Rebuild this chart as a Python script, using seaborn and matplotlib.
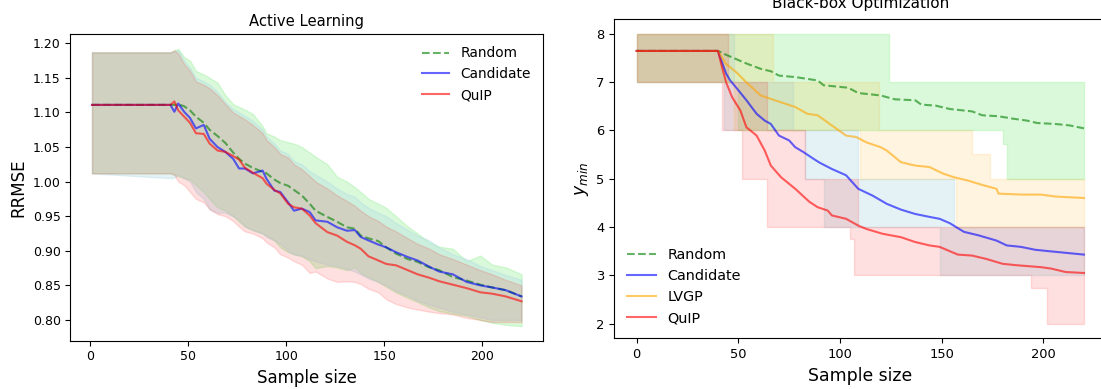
import seaborn as sns
import matplotlib.pyplot as plt

# ---- Active Learning (left panel) ----
al_x = [1, 41, 43, 45, 48, 51, 54, 58, 61, 65, 69, 73, 76, 79, 83, 88, 90, 94, 97, 101, 104, 108,
        112, 115, 121, 126, 131, 135, 138, 142, 147, 151, 156, 162, 167, 173, 178, 185, 192, 199,
        205, 212, 220]

al_random = [1.111, 1.111, 1.111, 1.112, 1.109, 1.103, 1.094, 1.085, 1.075, 1.066, 1.056, 1.042,
             1.033, 1.026, 1.020, 1.014, 1.012, 1.003, 0.998, 0.994, 0.988, 0.980, 0.968, 0.958,
             0.949, 0.942, 0.934, 0.932, 0.922, 0.918, 0.914, 0.905, 0.896, 0.888, 0.884, 0.876,
             0.872, 0.862, 0.857, 0.851, 0.847, 0.843, 0.834]
al_random_lo = [1.012, 1.012, 1.010, 1.008, 1.005, 1.003, 0.995, 0.985, 0.975, 0.963, 0.958, 0.950,
                0.942, 0.935, 0.930, 0.925, 0.922, 0.915, 0.905, 0.898, 0.895, 0.892, 0.885, 0.875,
                0.878, 0.876, 0.872, 0.876, 0.868, 0.862, 0.855, 0.848, 0.840, 0.832, 0.826, 0.818,
                0.813, 0.809, 0.806, 0.800, 0.796, 0.793, 0.791]
al_random_hi = [1.187, 1.187, 1.190, 1.192, 1.180, 1.175, 1.160, 1.155, 1.150, 1.143, 1.125, 1.112,
                1.108, 1.104, 1.098, 1.080, 1.070, 1.065, 1.060, 1.057, 1.055, 1.050, 1.042, 1.036,
                1.025, 1.007, 1.000, 0.992, 0.985, 0.975, 0.968, 0.962, 0.950, 0.935, 0.925, 0.912,
                0.906, 0.903, 0.885, 0.893, 0.880, 0.876, 0.866]

al_cand = [1.111, 1.111, 1.101, 1.113, 1.101, 1.092, 1.077, 1.082, 1.062, 1.050, 1.043, 1.033,
           1.019, 1.019, 1.012, 1.016, 1.004, 0.987, 0.985, 0.970, 0.958, 0.961, 0.956, 0.944,
           0.942, 0.934, 0.929, 0.930, 0.920, 0.915, 0.909, 0.905, 0.898, 0.891, 0.886, 0.877,
           0.870, 0.866, 0.855, 0.850, 0.847, 0.843, 0.834]
al_cand_lo = [1.012, 1.005, 1.006, 1.010, 1.005, 1.000, 0.985, 0.975, 0.960, 0.955, 0.955, 0.950,
              0.945, 0.935, 0.930, 0.925, 0.920, 0.915, 0.910, 0.900, 0.895, 0.893, 0.888, 0.885,
              0.880, 0.878, 0.874, 0.870, 0.866, 0.860, 0.855, 0.850, 0.842, 0.835, 0.828, 0.822,
              0.818, 0.812, 0.808, 0.804, 0.800, 0.800, 0.800]
al_cand_hi = [1.187, 1.187, 1.188, 1.190, 1.175, 1.165, 1.150, 1.145, 1.140, 1.130, 1.115, 1.105,
              1.100, 1.095, 1.088, 1.075, 1.065, 1.055, 1.045, 1.040, 1.030, 1.025, 1.015, 1.010,
              1.000, 0.990, 0.982, 0.978, 0.970, 0.962, 0.955, 0.950, 0.940, 0.930, 0.922, 0.915,
              0.905, 0.895, 0.888, 0.878, 0.872, 0.865, 0.858]

al_quip = [1.111, 1.111, 1.116, 1.103, 1.094, 1.085, 1.070, 1.069, 1.055, 1.045, 1.043, 1.037,
           1.032, 1.020, 1.013, 1.005, 0.997, 0.988, 0.983, 0.968, 0.963, 0.961, 0.951, 0.940,
           0.927, 0.922, 0.913, 0.908, 0.903, 0.892, 0.886, 0.881, 0.879, 0.872, 0.866, 0.861,
           0.856, 0.851, 0.846, 0.840, 0.838, 0.834, 0.827]
al_quip_lo = [1.012, 1.012, 1.010, 1.000, 0.995, 0.985, 0.975, 0.970, 0.960, 0.953, 0.950, 0.943,
              0.935, 0.928, 0.925, 0.918, 0.912, 0.905, 0.895, 0.890, 0.885, 0.880, 0.868, 0.870,
              0.860, 0.855, 0.856, 0.855, 0.852, 0.845, 0.840, 0.830, 0.823, 0.818, 0.815, 0.812,
              0.810, 0.808, 0.803, 0.800, 0.797, 0.797, 0.797]
al_quip_hi = [1.187, 1.187, 1.190, 1.185, 1.170, 1.160, 1.145, 1.140, 1.135, 1.125, 1.112, 1.100,
              1.095, 1.090, 1.082, 1.070, 1.060, 1.050, 1.040, 1.035, 1.025, 1.018, 1.008, 1.000,
              0.990, 0.980, 0.972, 0.965, 0.958, 0.950, 0.943, 0.935, 0.928, 0.918, 0.910, 0.903,
              0.895, 0.888, 0.880, 0.872, 0.866, 0.858, 0.850]

# ---- Black-box Optimization (right panel) ----
bo_random_x = [0, 40, 44, 49, 54, 61, 66, 70, 78, 89, 92, 104, 109, 120, 127, 137, 140, 147, 154,
               165, 170, 178, 185, 192, 197, 206, 213, 220]
bo_random_y = [7.64, 7.64, 7.56, 7.47, 7.38, 7.27, 7.22, 7.13, 7.10, 7.03, 6.93, 6.88, 6.77, 6.72,
               6.64, 6.62, 6.53, 6.51, 6.44, 6.39, 6.31, 6.29, 6.24, 6.20, 6.15, 6.13, 6.10, 6.04]

bo_cand_x = [0, 40, 42, 44, 46, 49, 54, 59, 63, 66, 70, 75, 78, 82, 87, 90, 96, 103, 109, 116, 123,
             130, 137, 144, 149, 154, 161, 168, 177, 182, 189, 196, 203, 220]
bo_cand_y = [7.64, 7.64, 7.40, 7.17, 7.03, 6.88, 6.62, 6.34, 6.20, 6.13, 5.89, 5.79, 5.65, 5.55,
             5.41, 5.33, 5.20, 5.07, 4.79, 4.65, 4.48, 4.36, 4.27, 4.21, 4.17, 4.08, 3.90, 3.83,
             3.72, 3.62, 3.59, 3.53, 3.50, 3.43]

bo_lvgp_x = [0, 40, 44, 49, 54, 61, 68, 78, 84, 89, 96, 103, 108, 113, 120, 123, 130, 137, 144, 151,
             156, 163, 170, 177, 178, 190, 199, 206, 220]
bo_lvgp_y = [7.64, 7.64, 7.37, 7.20, 6.99, 6.72, 6.62, 6.48, 6.34, 6.31, 6.10, 5.89, 5.86, 5.75,
             5.65, 5.58, 5.34, 5.27, 5.24, 5.10, 5.03, 4.96, 4.87, 4.79, 4.69, 4.67, 4.67, 4.63, 4.60]

bo_quip_x = [0, 40, 42, 44, 47, 51, 54, 57, 59, 63, 66, 71, 78, 85, 89, 94, 96, 103, 109, 113, 121,
             130, 137, 144, 149, 158, 165, 172, 180, 187, 199, 204, 211, 220]
bo_quip_y = [7.64, 7.64, 7.30, 6.99, 6.68, 6.41, 6.06, 5.96, 5.89, 5.58, 5.27, 5.03, 4.79, 4.52,
             4.41, 4.34, 4.24, 4.17, 4.03, 3.96, 3.86, 3.79, 3.69, 3.62, 3.59, 3.43, 3.41, 3.34,
             3.24, 3.21, 3.17, 3.14, 3.07, 3.05]

# step bands (value holds until next x)
bo_random_band_x = [0, 50, 124, 180, 182, 220]
bo_random_lo = [7, 6, 6, 5.72, 5, 5]
bo_random_hi = [8, 8, 7, 7, 7, 7]

bo_cand_band_x = [0, 43, 48, 77, 83, 92, 109, 149, 156, 220]
bo_cand_lo = [7, 6, 6, 6, 5, 4, 4, 3, 3, 3]
bo_cand_hi = [8, 8, 7, 6, 6, 6, 5, 5, 4, 4]

bo_lvgp_band_x = [0, 48, 67, 110, 119, 157, 165, 174, 220]
bo_lvgp_lo = [7, 6, 6, 5, 5, 4, 4, 4, 4]
bo_lvgp_hi = [8, 8, 7, 7, 6, 6, 5.5, 5, 5]

bo_quip_band_x = [0, 42, 45, 52, 64, 83, 105, 107, 109, 194, 202, 220]
bo_quip_lo = [7, 6, 6, 5, 4, 4, 3.75, 3, 3, 2.75, 2, 2]
bo_quip_hi = [8, 8, 7, 7, 6, 5, 5, 5, 4, 4, 4, 4]

fig = plt.figure(figsize=(11.01, 3.89), dpi=100)
ax1 = fig.add_axes([0.06403, 0.12416, 0.42916, 0.78843])
ax2 = fig.add_axes([0.55795, 0.13033, 0.44686, 0.82082])

# left panel
sns.lineplot(x=al_x, y=al_random, ax=ax1, color='green', alpha=0.6, lw=1.5, linestyle='--', label='Random')
ax1.fill_between(al_x, al_random_lo, al_random_hi, color='lightgreen', alpha=0.33)
sns.lineplot(x=al_x, y=al_cand, ax=ax1, color='blue', alpha=0.6, lw=1.5, label='Candidate')
ax1.fill_between(al_x, al_cand_lo, al_cand_hi, color='lightblue', alpha=0.33)
sns.lineplot(x=al_x, y=al_quip, ax=ax1, color='red', alpha=0.6, lw=1.5, label='QuIP')
ax1.fill_between(al_x, al_quip_lo, al_quip_hi, color='red', alpha=0.12)
ax1.set_xlim(-9.95, 230.95)
ax1.set_ylim(0.770, 1.2135)
ax1.set_title('Active Learning', fontsize=10.6, pad=5.5)
ax1.set_xlabel('Sample size', fontsize=12)
ax1.set_ylabel('RRMSE', fontsize=12)
ax1.tick_params(labelsize=9.0)
ax1.legend(loc='upper right', frameon=False, fontsize=9.9)

# right panel
sns.lineplot(x=bo_random_x, y=bo_random_y, ax=ax2, color='green', alpha=0.6, lw=1.5, linestyle='--', label='Random')
ax2.fill_between(bo_random_band_x, bo_random_lo, bo_random_hi, step='post', color='lightgreen', alpha=0.33)
sns.lineplot(x=bo_cand_x, y=bo_cand_y, ax=ax2, color='blue', alpha=0.6, lw=1.5, label='Candidate')
ax2.fill_between(bo_cand_band_x, bo_cand_lo, bo_cand_hi, step='post', color='lightblue', alpha=0.33)
sns.lineplot(x=bo_lvgp_x, y=bo_lvgp_y, ax=ax2, color='orange', alpha=0.6, lw=1.5, label='LVGP')
ax2.fill_between(bo_lvgp_band_x, bo_lvgp_lo, bo_lvgp_hi, step='post', color='orange', alpha=0.12)
sns.lineplot(x=bo_quip_x, y=bo_quip_y, ax=ax2, color='red', alpha=0.6, lw=1.5, label='QuIP')
ax2.fill_between(bo_quip_band_x, bo_quip_lo, bo_quip_hi, step='post', color='red', alpha=0.12)
ax2.set_xlim(-11, 231)
ax2.set_ylim(1.7, 8.3)
ax2.set_title('Black-box Optimization', fontsize=11, pad=7.7)
ax2.set_xlabel('Sample size', fontsize=12.4)
ax2.set_ylabel(r'$y_{min}$', fontsize=12.4)
ax2.tick_params(labelsize=9.4)
ax2.legend(loc='lower left', frameon=False, fontsize=10.4)

fig.savefig('out.png', dpi=100)
